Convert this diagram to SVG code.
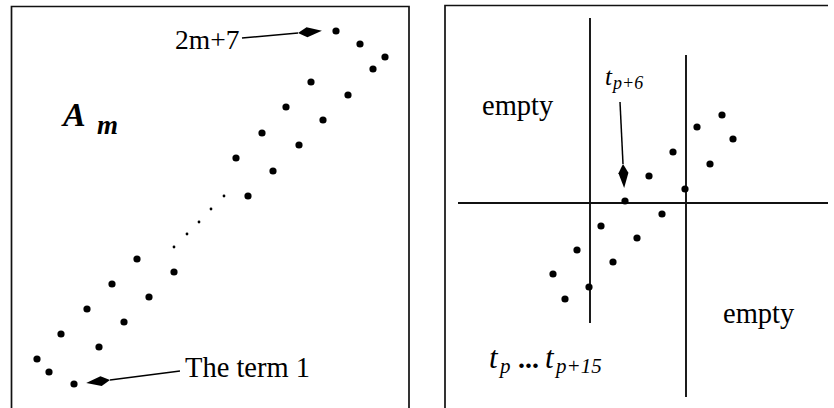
<svg xmlns="http://www.w3.org/2000/svg" width="834" height="408" viewBox="0 0 834 408">
<style>
.frame{fill:none;stroke:#111;stroke-width:1.7}
.rule{fill:none;stroke:#111;stroke-width:1.9}
.dot{fill:#000}
.conn{fill:none;stroke:#000;stroke-width:1.5}
.t{font-family:"Liberation Serif","Times New Roman",serif;fill:#000}
.it{font-style:italic}
.bi{font-style:italic;font-weight:bold}
</style>
<defs>
<marker id="kite" viewBox="0 -6 25 12" markerWidth="25" markerHeight="12" refX="0" refY="0" markerUnits="userSpaceOnUse" orient="auto">
<path d="M0,0 L9,-5 L24,0 L9,5 Z" fill="#000"/>
</marker>
</defs>
<rect width="834" height="408" fill="#fff"/>

<g id="panel-left">
<path class="frame" d="M11.5,410 V6.5 H409 V410"/>
<g id="left-dots">
<circle class="dot" cx="336" cy="31" r="3.6"/>
<circle class="dot" cx="360" cy="44" r="3.6"/>
<circle class="dot" cx="385" cy="57" r="3.6"/>
<circle class="dot" cx="373" cy="69" r="3.6"/>
<circle class="dot" cx="311" cy="82" r="3.6"/>
<circle class="dot" cx="348" cy="95" r="3.6"/>
<circle class="dot" cx="286" cy="107" r="3.6"/>
<circle class="dot" cx="323" cy="120" r="3.6"/>
<circle class="dot" cx="262" cy="133" r="3.6"/>
<circle class="dot" cx="299" cy="145" r="3.6"/>
<circle class="dot" cx="236" cy="158" r="3.6"/>
<circle class="dot" cx="273" cy="171" r="3.6"/>
<circle class="dot" cx="248" cy="196" r="3.6"/>
<circle class="dot" cx="224" cy="196" r="1.4"/>
<circle class="dot" cx="211" cy="209" r="1.4"/>
<circle class="dot" cx="199" cy="222" r="1.4"/>
<circle class="dot" cx="187" cy="234" r="1.4"/>
<circle class="dot" cx="174" cy="247" r="1.4"/>
<circle class="dot" cx="137" cy="259" r="3.6"/>
<circle class="dot" cx="174" cy="272" r="3.6"/>
<circle class="dot" cx="112" cy="284" r="3.6"/>
<circle class="dot" cx="149" cy="297" r="3.6"/>
<circle class="dot" cx="87" cy="309" r="3.6"/>
<circle class="dot" cx="124" cy="322" r="3.6"/>
<circle class="dot" cx="61" cy="334" r="3.6"/>
<circle class="dot" cx="99" cy="347" r="3.6"/>
<circle class="dot" cx="37" cy="359" r="3.6"/>
<circle class="dot" cx="49" cy="372" r="3.6"/>
<circle class="dot" cx="74" cy="384" r="3.6"/>
</g>
<g id="label-Am">
<text class="t bi" x="63" y="126" font-size="34">A</text>
<text class="t bi" x="97" y="134" font-size="27">m</text>
</g>
<g id="label-2m7"><text class="t" x="175" y="49" font-size="27.5">2m+7</text></g>
<g id="label-term1"><text class="t" x="185" y="377" font-size="28.5">The term 1</text></g>
</g>

<g id="panel-right">
<path class="frame" d="M445,410 V5.5 H828"/>
<path class="rule" d="M458,203 H828 M590,18 V323 M686,55 V397"/>
<g id="right-dots">
<circle class="dot" cx="722" cy="115" r="3.6"/>
<circle class="dot" cx="697" cy="127" r="3.6"/>
<circle class="dot" cx="733" cy="139" r="3.6"/>
<circle class="dot" cx="673" cy="152" r="3.6"/>
<circle class="dot" cx="710" cy="164" r="3.6"/>
<circle class="dot" cx="649" cy="176" r="3.6"/>
<circle class="dot" cx="685" cy="189" r="3.6"/>
<circle class="dot" cx="625" cy="201" r="3.6"/>
<circle class="dot" cx="662" cy="214" r="3.6"/>
<circle class="dot" cx="601" cy="226" r="3.6"/>
<circle class="dot" cx="637" cy="238" r="3.6"/>
<circle class="dot" cx="577" cy="250" r="3.6"/>
<circle class="dot" cx="613" cy="262" r="3.6"/>
<circle class="dot" cx="553" cy="274" r="3.6"/>
<circle class="dot" cx="589" cy="287" r="3.6"/>
<circle class="dot" cx="565" cy="299" r="3.6"/>
</g>
<g id="label-empty-top"><text class="t" x="482" y="115" font-size="28.5">empty</text></g>
<g id="label-empty-bottom"><text class="t" x="723" y="323" font-size="28.5">empty</text></g>
<g id="label-tp6">
<text class="t it" x="605" y="85" font-size="25">t</text>
<text class="t it" x="613" y="89" font-size="18">p+6</text>
</g>
<g id="label-range">
<text class="t it" x="489" y="368" font-size="31">t</text>
<text class="t it" x="500" y="373" font-size="21">p</text>
<text class="t bi" x="519" y="368" font-size="28">...</text>
<text class="t it" x="545" y="368" font-size="31">t</text>
<text class="t it" x="556" y="373" font-size="21">p+15</text>
</g>
</g>

<g id="connectors">
<line class="conn" x1="242" y1="38" x2="298" y2="33" marker-end="url(#kite)"/>
<line class="conn" x1="180" y1="371" x2="110" y2="380" marker-end="url(#kite)"/>
<line class="conn" x1="620" y1="102" x2="623" y2="164" marker-end="url(#kite)"/>
</g>
</svg>
